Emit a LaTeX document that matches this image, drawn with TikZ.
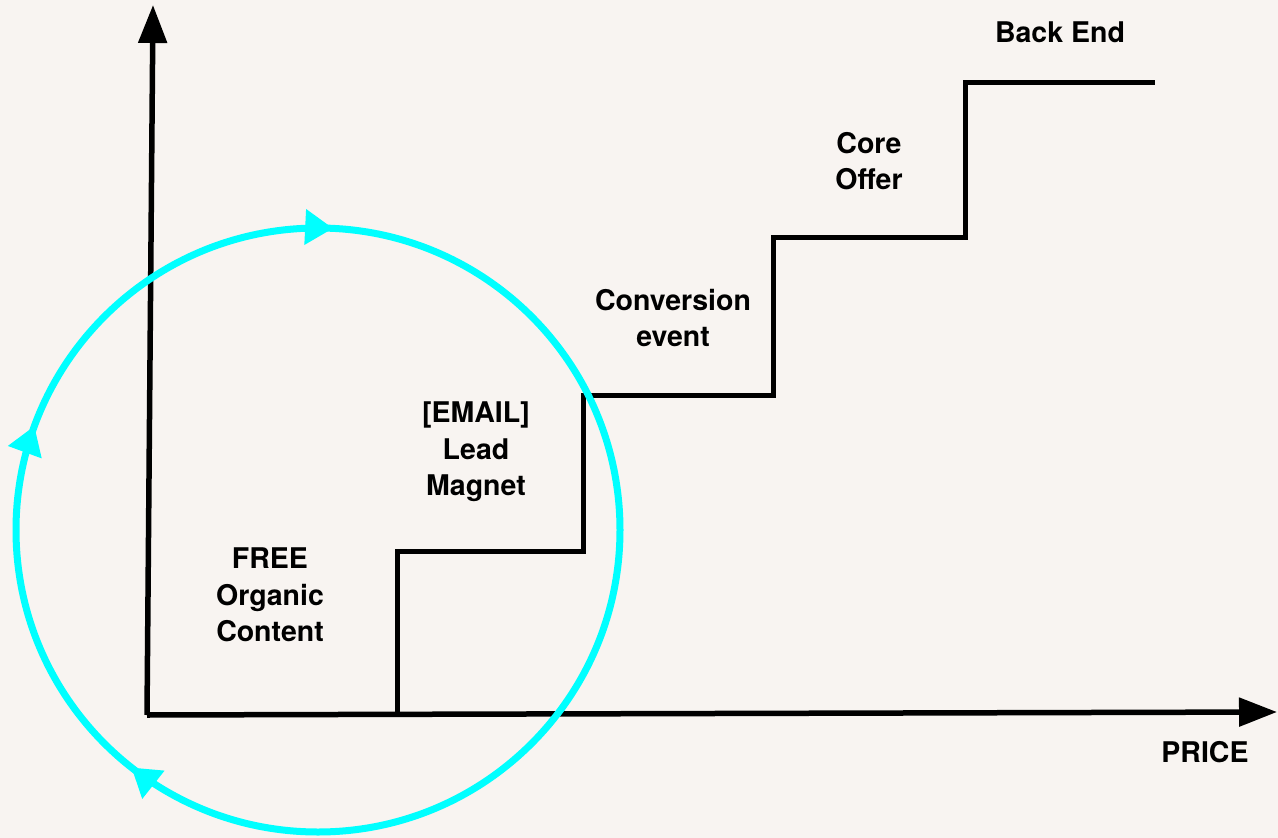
\documentclass[tikz,border=0pt]{standalone}
\usepackage{fontspec}
\setmainfont{TeX Gyre Heros}
\usetikzlibrary{arrows.meta,decorations.markings}
\definecolor{bg}{RGB}{248,244,241}
\definecolor{cyc}{RGB}{0,255,255}
\tikzset{
  axisline/.style={line width=5.5pt, -{Triangle[length=38pt,width=28pt]}},
  stairline/.style={line width=5pt, line join=miter},
  lbl/.style={font=\fontsize{28.5}{36.5}\selectfont\bfseries, align=center, inner sep=0pt},
  cycle/.style={cyc, line width=7pt,
    postaction={decorate, decoration={markings,
      mark=at position 0.356 with {\arrow{Triangle[length=28pt,width=34pt]}},
      mark=at position 0.556 with {\arrow{Triangle[length=28pt,width=34pt]}},
      mark=at position 0.758 with {\arrow{Triangle[length=28pt,width=34pt]}}}}}
}
\begin{document}
\begin{tikzpicture}[x=1pt,y=-1pt]
\fill[bg] (0,0) rectangle (1278,838);
\useasboundingbox (0,0) rectangle (1278,838);
% axes
\coordinate (o) at (147,715);
\coordinate (ytop) at (153,5);
\coordinate (xend) at (1277,712);
\draw[axisline] (o) -- (ytop);
\draw[axisline] (o) -- (xend);
% staircase
\coordinate (s0) at (397,715);
\draw[stairline] (s0) |- (583,551) |- (773,395) |- (965,237) |- (1155,82);
% cycle
\coordinate (c) at (318,530);
\draw[cycle] (c) circle (302);
% labels
\node[lbl] (be) at (1060,32) {Back End};
\node[lbl] (co) at (869,161) {Core\\Offer};
\node[lbl] (ce) at (673,318) {Conversion\\event};
\node[lbl] (lm) at (476,452) {[EMAIL]\\Lead\\Magnet};
\node[lbl] (fr) at (270,595) {FREE\\Organic\\Content};
\node[lbl] (pr) at (1205,752) {PRICE};
\end{tikzpicture}
\end{document}
